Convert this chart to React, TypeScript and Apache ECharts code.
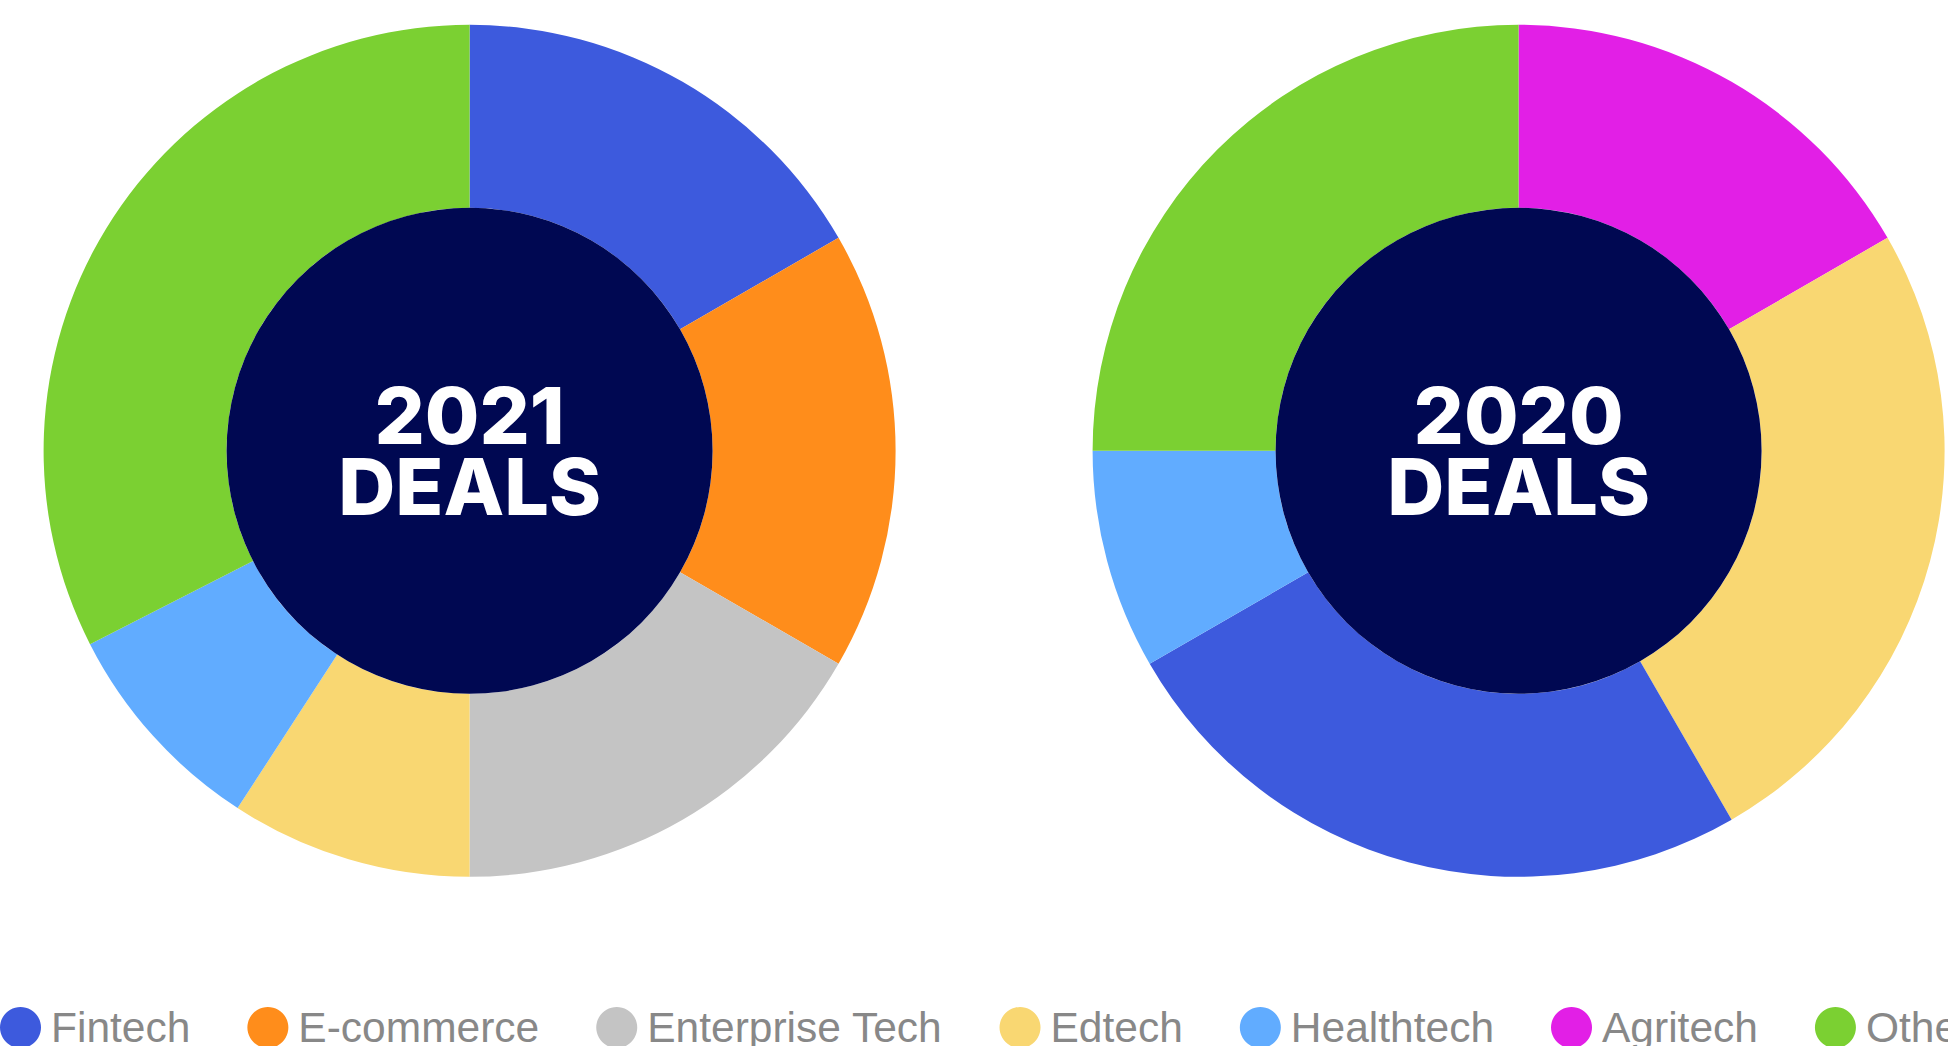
import React, { useEffect, useRef } from "react";
import * as echarts from "echarts";

const legendNames = ["Fintech", "E-commerce", "Enterprise Tech", "Edtech", "Healthtech", "Agritech", "Other"];
const colors: Record<string, string> = {
  Fintech: "#3d5add",
  "E-commerce": "#ff8d1b",
  "Enterprise Tech": "#c4c4c4",
  Edtech: "#f9d772",
  Healthtech: "#61acff",
  Agritech: "#e21fe6",
  Other: "#7bd032",
};

const deals2021Names = ["Fintech", "E-commerce", "Enterprise Tech", "Edtech", "Healthtech", "Other"];
const deals2021Values = [20, 20, 20, 11, 10, 39];

const deals2020Names = ["Agritech", "Edtech", "Fintech", "Healthtech", "Other"];
const deals2020Values = [2, 3, 3, 1, 3];

const centerLabels = ["2021\nDEALS", "2020\nDEALS"];

export default function App() {
  const ref = useRef<HTMLDivElement>(null);
  useEffect(() => {
    document.body.style.margin = "0";
    document.body.style.overflow = "hidden";
    const chart = echarts.init(ref.current!, undefined, { renderer: "svg" });
    const centers = [
      [469.6, 450.8],
      [1518.6, 450.8],
    ];
    const ringSeries = (names: string[], values: number[], center: number[]) => ({
      type: "pie",
      radius: [243, 426],
      center,
      startAngle: 90,
      clockwise: true,
      silent: true,
      label: { show: false },
      labelLine: { show: false },
      emphasis: { disabled: true },
      itemStyle: { borderWidth: 0 },
      data: names.map((n, i) => ({ name: n, value: values[i], itemStyle: { color: colors[n] } })),
    });
    const centerSeries = (text: string, center: number[]) => ({
      type: "pie",
      radius: [0, 243],
      center,
      silent: true,
      emphasis: { disabled: true },
      labelLine: { show: false },
      label: {
        show: true,
        position: "center",
        formatter: text,
        color: "#ffffff",
        fontFamily: "Inter",
        fontWeight: 800,
        fontSize: 79,
        lineHeight: 71,
      },
      itemStyle: { color: "#000852" },
      data: [{ name: "center" + text, value: 1 }],
    });
    chart.setOption({
      animation: false,
      legend: {
        data: legendNames,
        left: 0,
        top: 1006,
        orient: "horizontal",
        icon: "circle",
        itemWidth: 41,
        itemHeight: 41,
        itemGap: 57,
        padding: 0,
        selectedMode: false,
        textStyle: {
          color: "#888888",
          fontFamily: "Liberation Sans",
          fontSize: 42.5,
          padding: [0, 0, 0, 5],
        },
      },
      series: [
        ringSeries(deals2021Names, deals2021Values, centers[0]),
        centerSeries(centerLabels[0], centers[0]),
        ringSeries(deals2020Names, deals2020Values, centers[1]),
        centerSeries(centerLabels[1], centers[1]),
      ],
    });
    return () => chart.dispose();
  }, []);
  return (
    <div style={{ position: "fixed", left: 0, top: 0, width: 1948, height: 1046, overflow: "hidden", background: "#fff" }}>
      <div ref={ref} style={{ width: 2400, height: 1046 }} />
    </div>
  );
}
